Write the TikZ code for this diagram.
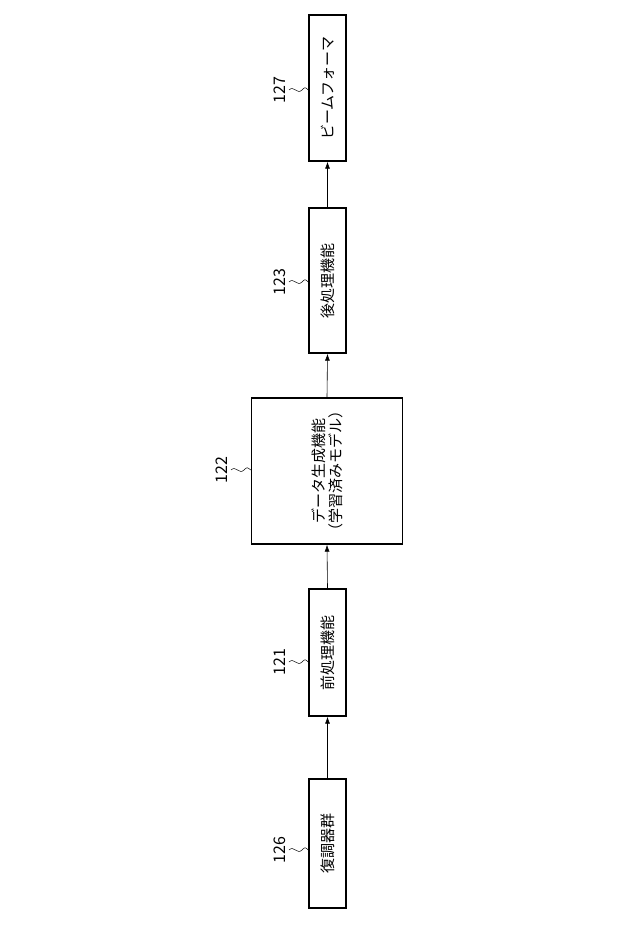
\documentclass[tikz,border=0pt]{standalone}
\usepackage{fontspec}
\setmainfont{Noto Sans CJK JP}
\usetikzlibrary{arrows.meta}
\tikzset{
  blockbox/.style={draw,line width=1.4pt,rotate=90,inner sep=0pt,align=center,font=\fontsize{15}{17}\selectfont},
  reflabel/.style={rotate=90,font=\fontsize{16}{18}\selectfont},
  flow/.style={-{Latex[length=7pt,width=5pt]},line width=0.6pt},
}
\begin{document}
\begin{tikzpicture}[x=1pt,y=-1pt]
  \useasboundingbox (0,0) rectangle (640,941);

  % Blocks, bottom to top
  \node[blockbox,minimum width=129pt,minimum height=37pt] (dem) at (327.5,843.5) {復調器群};
  \node[blockbox,minimum width=127pt,minimum height=37pt] (pre) at (327.5,652.5) {前処理機能};
  \node[blockbox,minimum width=146pt,minimum height=151pt] (gen) at (327,471) {データ生成機能\\（学習済みモデル）};
  \node[blockbox,minimum width=145pt,minimum height=37pt] (post) at (327.5,280.5) {後処理機能};
  \node[blockbox,minimum width=146pt,minimum height=37pt] (bf) at (327.5,88) {ビームフォーマ};

  % Connectors
  \draw[flow] (dem.east) -- (pre.west);
  \draw[flow] (pre.east) -- (gen.west);
  \draw[flow] (gen.east) -- (post.west);
  \draw[flow] (post.east) -- (bf.west);

  % Reference numerals with wavy leaders
  \foreach \nm/\num/\xx/\yy in {dem/126/289/850, pre/121/289/662, gen/122/231/470, post/123/289/282, bf/127/289/90} {
    \node[reflabel,anchor=south] (l\num) at (\xx,\yy) {\num};
    \coordinate (t\num) at (0,\yy);
    \draw[line width=0.5pt] (\xx,\yy) .. controls (\xx+5,\yy-5) and (\xx+8,\yy+5) .. (\xx+13,\yy)
      .. controls (\xx+16,\yy-3) .. (\nm.north |- t\num);
  }
\end{tikzpicture}
\end{document}
